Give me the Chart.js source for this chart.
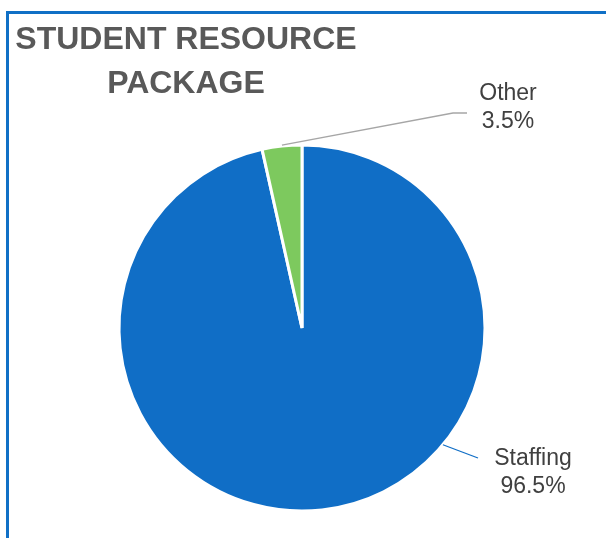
<!DOCTYPE html>
<html>
<head>
<meta charset="utf-8">
<script src="https://cdn.jsdelivr.net/npm/chart.js@4/dist/chart.umd.min.js"></script>
<style>
html,body{margin:0;padding:0;background:#fff;}
#wrap{position:relative;width:606px;height:538px;}
</style>
</head>
<body>
<div id="wrap"><canvas id="c" width="606" height="538"></canvas></div>
<script>
const titleLines = ["STUDENT RESOURCE", "PACKAGE"];
const categories = ["Staffing", "Other"];
const values = [96.5, 3.5];
const valueLabels = ["96.5%", "3.5%"];
const colors = ["#106EC6", "#7DC95E"];

const framePlugin = {
  id: 'frame',
  afterDraw(chart) {
    const ctx = chart.ctx;
    ctx.save();
    // border frame
    ctx.strokeStyle = '#1070C6';
    ctx.lineWidth = 3;
    ctx.strokeRect(7.5, 12.5, 800, 800);
    // title
    ctx.fillStyle = '#595959';
    ctx.font = 'bold 32px "Liberation Sans", Arial, sans-serif';
    ctx.textAlign = 'center';
    ctx.textBaseline = 'alphabetic';
    ctx.fillText(titleLines[0], 186, 49);
    ctx.fillText(titleLines[1], 186, 93);

    // data labels with leader lines
    const meta = chart.getDatasetMeta(0);
    const specs = [
      {lx: 533, ly: 465, line: [[478, 458]], color: colors[0]},
      {lx: 508, ly: 100, line: [[453, 113], [467, 113]], color: '#A6A6A6'}
    ];
    meta.data.forEach((arc, i) => {
      const s = specs[i];
      const mid = (arc.startAngle + arc.endAngle) / 2;
      const r = arc.outerRadius;
      const sx = arc.x + Math.cos(mid) * r * (i === 0 ? 1.0 : 1.0);
      const sy = arc.y + Math.sin(mid) * r;
      let start;
      if (i === 0) {
        // staffing line starts at edge near lower right
        const a = Math.atan2(444 - arc.y, 442 - arc.x);
        start = [arc.x + Math.cos(a) * r, arc.y + Math.sin(a) * r];
      } else {
        start = [sx, sy - 1];
      }
      ctx.beginPath();
      ctx.strokeStyle = s.color;
      ctx.lineWidth = 1.3;
      ctx.moveTo(start[0], start[1]);
      s.line.forEach(p => ctx.lineTo(p[0], p[1]));
      ctx.stroke();
      ctx.fillStyle = '#404040';
      ctx.font = '23px "Liberation Sans", Arial, sans-serif';
      ctx.textAlign = 'center';
      ctx.fillText(categories[i], s.lx, s.ly);
      ctx.fillText(valueLabels[i], s.lx, s.ly + 28);
    });
    ctx.restore();
  }
};

new Chart(document.getElementById('c'), {
  type: 'pie',
  data: {
    labels: categories,
    datasets: [{
      data: values,
      backgroundColor: colors,
      borderColor: '#ffffff',
      borderWidth: 3
    }]
  },
  options: {
    responsive: false,
    animation: false,
    radius: 183,
    layout: {padding: {left: 0, right: 2, top: 118, bottom: 0}},
    plugins: {
      legend: {display: false},
      tooltip: {enabled: false},
      title: {display: false}
    }
  },
  plugins: [framePlugin]
});
</script>
</body>
</html>
